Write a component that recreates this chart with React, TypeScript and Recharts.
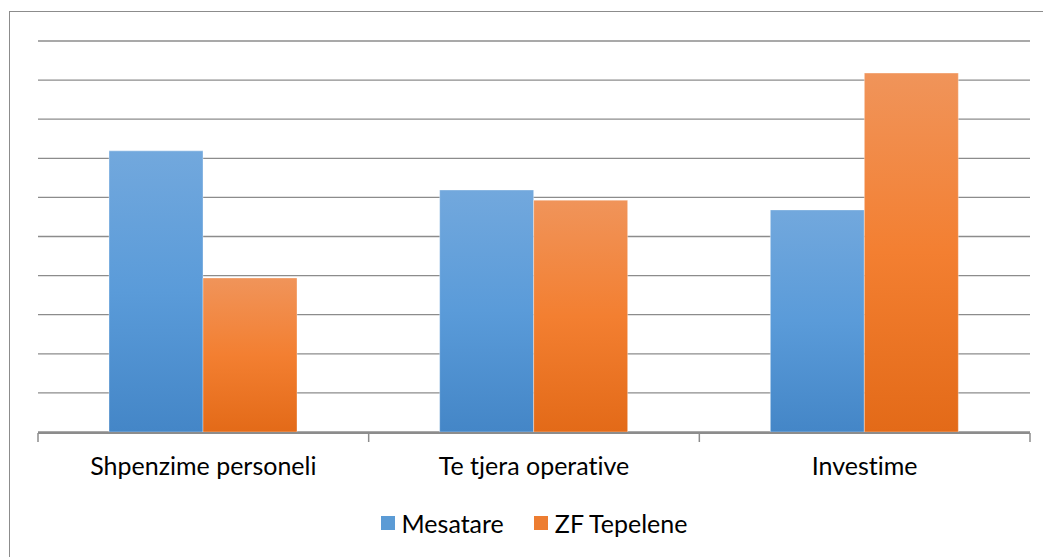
import React from 'react';
import { BarChart, Bar, XAxis, YAxis, CartesianGrid, Legend } from 'recharts';

const categories = ['Shpenzime personeli', 'Te tjera operative', 'Investime'];
const mesatare = [7.19, 6.19, 5.68];
const zfTepelene = [3.94, 5.93, 9.18];
const yTicks = [0, 1, 2, 3, 4, 5, 6, 7, 8, 9, 10];
const edgeTicks = [0, 1, 2, 3];

const data = categories.map((name, i) => ({
  name,
  idx: i + 0.5,
  mesatare: mesatare[i],
  zf: zfTepelene[i],
}));

const FONT = 'Lato, Carlito, Calibri, "Open Sans", sans-serif';
const swatch: Record<string, string> = { Mesatare: '#5b9bd5', 'ZF Tepelene': '#ed7d31' };

const renderLegend = (props: any) => {
  const { payload } = props;
  return (
    <div style={{ display: 'flex', justifyContent: 'center', alignItems: 'center', height: 49, fontFamily: FONT, fontSize: 25, color: '#000', fontVariantLigatures: 'none' }}>
      {payload.map((entry: any, i: number) => (
        <div key={entry.value} style={{ display: 'flex', alignItems: 'center', marginLeft: i === 0 ? 0 : 30 }}>
          <span style={{ width: 14, height: 14, background: swatch[entry.value], marginRight: 7, display: 'inline-block' }} />
          <span>{entry.value}</span>
        </div>
      ))}
    </div>
  );
};

const App: React.FC = () => {
  return (
    <div style={{ position: 'absolute', left: 0, top: 0, width: 1043, height: 557, background: '#fff', overflow: 'hidden' }}>
      <div style={{ position: 'absolute', left: 9, top: 11, width: 1060, height: 600, border: '1.5px solid #8c8c8c', boxSizing: 'border-box' }} />
      <BarChart
        width={1043}
        height={557}
        data={data}
        margin={{ top: 41, right: 13, left: 38, bottom: 0 }}
        barGap={0}
        barSize={94}
        style={{ position: 'absolute', left: 0, top: 0 }}
      >
        <defs>
          <linearGradient id="gBlue" x1="0" y1="0" x2="0" y2="1">
            <stop offset="0%" stopColor="#72a8dd" />
            <stop offset="50%" stopColor="#5a9bd9" />
            <stop offset="100%" stopColor="#4486c7" />
          </linearGradient>
          <linearGradient id="gOrange" x1="0" y1="0" x2="0" y2="1">
            <stop offset="0%" stopColor="#f0945a" />
            <stop offset="50%" stopColor="#f37f31" />
            <stop offset="100%" stopColor="#e36a18" />
          </linearGradient>
        </defs>
        <CartesianGrid vertical={false} stroke="#8c8c8c" strokeWidth={1.3} />
        <XAxis
          dataKey="name"
          axisLine={false}
          tickLine={false}
          tick={{ fill: '#000', fontSize: 25, fontFamily: FONT, dy: 17, style: { fontVariantLigatures: 'none' } }}
          height={1}
          interval={0}
        />
        <XAxis
          xAxisId="edge"
          type="number"
          dataKey="idx"
          domain={[0, 3]}
          ticks={edgeTicks}
          tickFormatter={() => ''}
          tickLine={{ stroke: '#8c8c8c', strokeWidth: 1.5 }}
          tickSize={9}
          axisLine={{ stroke: '#8c8c8c', strokeWidth: 2 }}
          height={65}
          interval={0}
        />
        <YAxis hide domain={[0, 10]} ticks={yTicks} />
        <Legend content={renderLegend} verticalAlign="bottom" height={59} />
        <Bar dataKey="mesatare" name="Mesatare" fill="url(#gBlue)" legendType="square" isAnimationActive={false} stroke="#ffffff" strokeOpacity={0.35} strokeWidth={1} />
        <Bar dataKey="zf" name="ZF Tepelene" fill="url(#gOrange)" legendType="square" isAnimationActive={false} stroke="#ffffff" strokeOpacity={0.35} strokeWidth={1} />
      </BarChart>
    </div>
  );
};

export default App;
